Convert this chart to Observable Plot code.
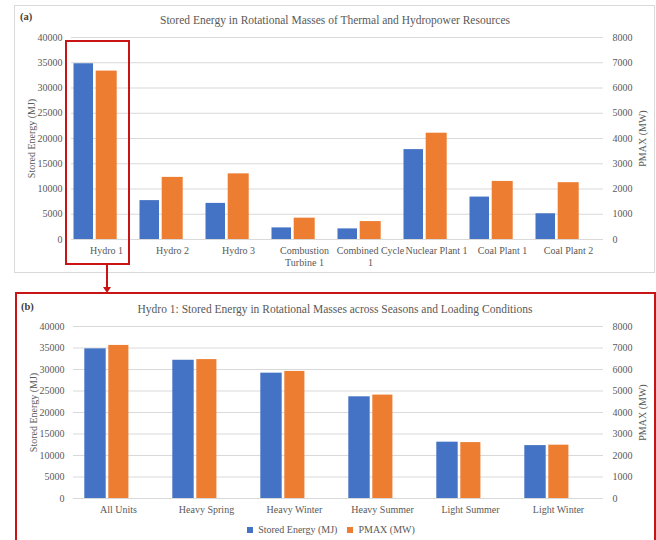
<!DOCTYPE html>
<html>
<head>
<meta charset="utf-8">
<script src="https://cdn.jsdelivr.net/npm/d3@7"></script>
<script src="https://cdn.jsdelivr.net/npm/@observablehq/plot@0.6"></script>
<style>
  body { margin: 0; background: #fff; }
  #root { position: relative; width: 656px; height: 540px; overflow: hidden; background: #fff; font-family: "Liberation Serif", serif; color: #595959; }
  .abs { position: absolute; }
  .title { position: absolute; left: 14px; width: 642px; text-align: center; font-size: 11.5px; line-height: 12px; color: #595959; white-space: nowrap; }
  .tag { position: absolute; font-size: 10.5px; font-weight: bold; color: #404040; line-height: 10px; }
</style>
</head>
<body>
<div id="root">
  <div id="plotA" class="abs" style="left:0;top:0"></div>
  <div id="plotB" class="abs" style="left:0;top:293px"></div>
  <div class="abs" style="left:14px;top:5px;width:641px;height:268px;border:1px solid #d9d9d9;box-sizing:border-box"></div>
  <div class="abs" style="left:15px;top:292px;width:641px;height:260px;border:2px solid #c81414;box-sizing:border-box"></div>
  <div class="abs" style="left:65px;top:40px;width:65px;height:225px;border:2px solid #c81414;box-sizing:border-box"></div>
  <svg class="abs" style="left:0;top:0" width="656" height="540">
    <line x1="107" y1="265" x2="107" y2="288" stroke="#c81414" stroke-width="2"/>
    <path d="M103,287 L111,287 L107,293 Z" fill="#c81414"/>
  </svg>
  <div class="tag" style="left:20px;top:12px">(a)</div>
  <div class="tag" style="left:21px;top:302px">(b)</div>
  <div class="title" style="top:14px">Stored Energy in Rotational Masses of Thermal and Hydropower Resources</div>
  <div class="title" style="top:303px">Hydro 1: Stored Energy in Rotational Masses across Seasons and Loading Conditions</div>
  <div id="legend" class="abs" style="left:0;width:672px;top:513px;display:flex;justify-content:center"></div>
</div>
<script>
// ---- Data ----
const catsA = ["Hydro 1", "Hydro 2", "Hydro 3", "Combustion Turbine 1", "Combined Cycle 1", "Nuclear Plant 1", "Coal Plant 1", "Coal Plant 2"];
const tickLabelsA = ["Hydro 1", "Hydro 2", "Hydro 3", "Combustion\nTurbine 1", "Combined Cycle\n1", "Nuclear Plant 1", "Coal Plant 1", "Coal Plant 2"];
const energyA = [34800, 7700, 7150, 2300, 2100, 17800, 8400, 5100];   // MJ
const pmaxA = [6670, 2460, 2600, 845, 710, 4210, 2300, 2250];          // MW

const catsB = ["All Units", "Heavy Spring", "Heavy Winter", "Heavy Summer", "Light Summer", "Light Winter"];
const energyB = [34800, 32150, 29150, 23650, 13100, 12300];           // MJ
const pmaxB = [7120, 6460, 5910, 4810, 2600, 2480];                   // MW

const ticksLeft = [0, 5000, 10000, 15000, 20000, 25000, 30000, 35000, 40000];
const ticksRight = [0, 1000, 2000, 3000, 4000, 5000, 6000, 7000, 8000];
const seriesNames = ["Stored Energy (MJ)", "PMAX (MW)"];
const seriesColors = ["#4472c4", "#ed7d31"];

const ratio = ticksLeft[ticksLeft.length - 1] / ticksRight[ticksRight.length - 1];

function makeChart(cats, labels, energy, pmax, opts) {
  const rows = cats.map((c, i) => ({cat: c, energy: energy[i], pmax: pmax[i] * ratio}));
  const textStyle = {fill: "#595959", fontSize: 10};
  return Plot.plot({
    width: 656,
    height: opts.height,
    marginTop: opts.mt,
    marginBottom: opts.mb,
    marginLeft: opts.ml,
    marginRight: opts.mr,
    style: {fontFamily: "Liberation Serif", fontSize: "10px", color: "#595959", background: "transparent", overflow: "visible"},
    x: {type: "band", domain: cats, padding: 0, label: null},
    y: {domain: [0, 40000], label: null},
    marks: [
      Plot.gridY(ticksLeft, {stroke: "#d9d9d9", strokeOpacity: 1}),
      Plot.barY(rows, {x: "cat", y: "energy", fill: seriesColors[0], insetLeft: opts.b1l, insetRight: opts.b1r}),
      Plot.barY(rows, {x: "cat", y: "pmax", fill: seriesColors[1], insetLeft: opts.b2l, insetRight: opts.b2r}),
      Plot.axisX({tickSize: 0, tickPadding: 6, tickFormat: d => labels[cats.indexOf(d)], lineHeight: 1.2, label: null, ...textStyle}),
      Plot.axisY({anchor: "left", ticks: ticksLeft, tickSize: 0, tickPadding: 9, tickFormat: d => String(d),
        label: "Stored Energy (MJ)", labelAnchor: "center", labelArrow: "none", labelOffset: 44, ...textStyle}),
      Plot.axisY({anchor: "right", ticks: ticksRight.map(d => d * ratio), tickSize: 0, tickPadding: 9, tickFormat: d => String(d / ratio),
        label: "PMAX (MW)", labelAnchor: "center", labelArrow: "none", labelOffset: 42, ...textStyle})
    ]
  });
}

document.getElementById("plotA").append(makeChart(catsA, tickLabelsA, energyA, pmaxA,
  {height: 272, mt: 37, mb: 33, ml: 71, mr: 53, b1l: 0.5, b1r: 46, b2l: 22.7, b2r: 22.3}));
document.getElementById("plotB").append(makeChart(catsB, catsB, energyB, pmaxB,
  {height: 247, mt: 33, mb: 42, ml: 73, mr: 53, b1l: 10.3, b1r: 56.3, b2l: 34.3, b2r: 33.6}));

document.getElementById("legend").append(Plot.legend({
  color: {type: "ordinal", domain: seriesNames, range: seriesColors},
  swatchSize: 6,
  style: {fontFamily: "Liberation Serif", fontSize: "10px", color: "#595959", marginLeft: 0}
}));
</script>
</body>
</html>
